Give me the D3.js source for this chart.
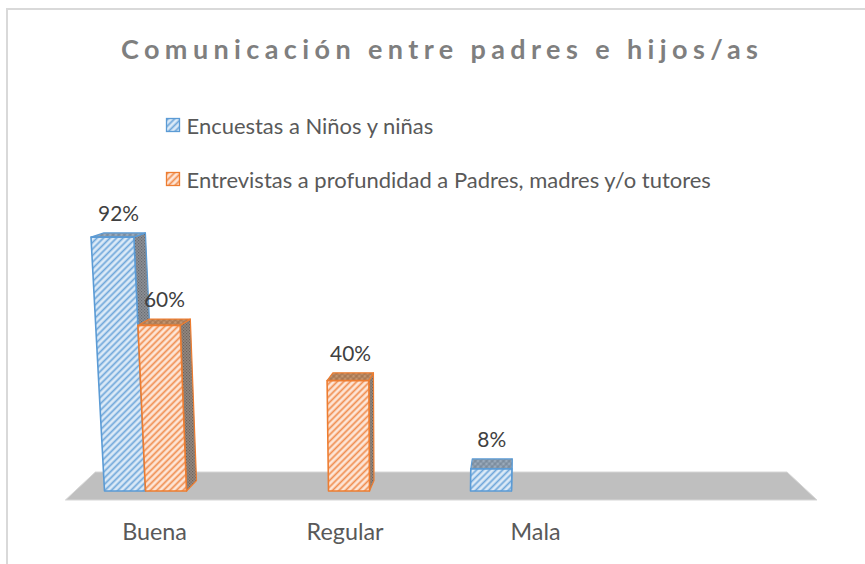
<!DOCTYPE html>
<html>
<head>
<meta charset="utf-8">
<script src="https://cdn.jsdelivr.net/npm/d3@7"></script>
<style>
  html, body { margin: 0; padding: 0; background: #fff; }
  svg { display: block; }
</style>
</head>
<body>
<svg id="chart" width="865" height="564"></svg>
<script>
// ---------- data ----------
const title = "Comunicación entre padres e hijos/as";
const categories = ["Buena", "Regular", "Mala"];
const seriesNames = ["Encuestas a Niños y niñas", "Entrevistas a profundidad a Padres, madres y/o tutores"];
const encuestas = [92, null, 8];     // %
const entrevistas = [60, 40, null];  // %
const seriesValues = [encuestas, entrevistas];

// ---------- styles ----------
const seriesStroke = ["#5b9bd5", "#ed7d31"];
const frontBg = ["#dceaf7", "#fde6d8"];
const frontFg = ["#6ea6da", "#f08c4e"];
const sideBg = ["#8d9096", "#938880"];
const sideFg = ["#666a70", "#6e625a"];
const topBg = ["#9aaabb", "#c4956f"];
const topFg = ["#6f7f90", "#9a6a45"];
const fontFam = "Lato, 'Open Sans', sans-serif";

const svg = d3.select("#chart");
const W = 865, H = 564;

// ---------- patterns ----------
const defs = svg.append("defs");
function stripePattern(id, bg, fg, sp, sw) {
  const p = defs.append("pattern").attr("id", id).attr("patternUnits", "userSpaceOnUse")
    .attr("width", sp).attr("height", sp).attr("patternTransform", "rotate(45)");
  p.append("rect").attr("width", sp).attr("height", sp).attr("fill", bg);
  p.append("line").attr("x1", sp / 2).attr("x2", sp / 2).attr("y1", 0).attr("y2", sp)
    .attr("stroke", fg).attr("stroke-width", sw);
}
function dotPattern(id, bg, fg) {
  const p = defs.append("pattern").attr("id", id).attr("patternUnits", "userSpaceOnUse")
    .attr("width", 3).attr("height", 3);
  p.append("rect").attr("width", 3).attr("height", 3).attr("fill", bg);
  p.append("rect").attr("x", 0).attr("y", 0).attr("width", 1.2).attr("height", 1.2).attr("fill", fg);
  p.append("rect").attr("x", 1.5).attr("y", 1.5).attr("width", 1.2).attr("height", 1.2).attr("fill", fg);
}
function crossPattern(id, bg, fg) {
  const p = defs.append("pattern").attr("id", id).attr("patternUnits", "userSpaceOnUse")
    .attr("width", 4).attr("height", 4).attr("patternTransform", "rotate(45)");
  p.append("rect").attr("width", 4).attr("height", 4).attr("fill", bg);
  p.append("line").attr("x1", 2).attr("x2", 2).attr("y1", 0).attr("y2", 4).attr("stroke", fg).attr("stroke-width", 1);
  p.append("line").attr("y1", 2).attr("y2", 2).attr("x1", 0).attr("x2", 4).attr("stroke", fg).attr("stroke-width", 0.8);
}
[0, 1].forEach(i => {
  stripePattern("front" + i, frontBg[i], frontFg[i], 4.6, 1.7);
  dotPattern("side" + i, sideBg[i], sideFg[i]);
  crossPattern("top" + i, topBg[i], topFg[i]);
});

// ---------- chart border ----------
svg.append("rect").attr("x", 7).attr("y", 9).attr("width", W + 20).attr("height", H + 20)
  .attr("fill", "#fff").attr("stroke", "#d9d9d9").attr("stroke-width", 2);

// ---------- scales ----------
const BASE = 491;
const y = d3.scaleLinear().domain([0, 100]).range([BASE, 215]);
const x = d3.scaleBand().domain(categories).range([75, 624]).padding(0);
const x1 = d3.scaleBand().domain([0, 1]).range([0, 82]);
const groupLeft = c => x(c) + x.bandwidth() / 2 - 62;

// simple perspective
const VX = 400, K = 1.8e-4;
function proj(px, py) { const h = BASE - py; return [px - (VX - px) * h * K, py]; }
function back(p, h) { return [p[0] + (520 - p[0]) * 0.03, p[1] - (10.5 - 0.025 * h)]; }

// ---------- floor ----------
const fl = x.range()[0], fr = x.range()[0] + x.step() * (categories.length + 1);
const floorPts = [[fl - 9.6, BASE + 9], [fl + 20.4, BASE - 19], [fr - 20, BASE - 19], [fr + 10, BASE + 9]];
svg.append("polygon").attr("points", floorPts.map(p => p.join(",")).join(" "))
  .attr("fill", "#bfbfbf").attr("stroke", "#d6d6d6").attr("stroke-width", 1);

// ---------- bars ----------
const bars = [];
categories.forEach((c, ci) => {
  seriesValues.forEach((vals, si) => {
    const v = vals[ci];
    if (v == null) return;
    bars.push({ c, si, v });
  });
});

const poly = pts => pts.map(p => p[0].toFixed(2) + "," + p[1].toFixed(2)).join(" ");
const gBars = svg.append("g");
bars.forEach(b => {
  const x0 = groupLeft(b.c) + x1(b.si), x2 = x0 + x1.bandwidth();
  const yt = y(b.v), h = BASE - yt;
  const FBL = proj(x0, BASE), FBR = proj(x2, BASE), FTL = proj(x0, yt), FTR = proj(x2, yt);
  const BTL = back(FTL, h), BTR = back(FTR, h), BBR = back(FBR, 0);
  const g = gBars.append("g");
  g.append("polygon").attr("points", poly([FBR, FTR, BTR, BBR]))
    .attr("fill", `url(#side${b.si})`).attr("stroke", seriesStroke[b.si]).attr("stroke-width", 1.2).attr("stroke-linejoin", "round");
  g.append("polygon").attr("points", poly([FTL, FTR, BTR, BTL]))
    .attr("fill", `url(#top${b.si})`).attr("stroke", seriesStroke[b.si]).attr("stroke-width", 1.2).attr("stroke-linejoin", "round");
  g.append("polygon").attr("points", poly([FBL, FBR, FTR, FTL]))
    .attr("fill", `url(#front${b.si})`).attr("stroke", seriesStroke[b.si]).attr("stroke-width", 1.6).attr("stroke-linejoin", "round");
  b.lx = (FTL[0] + FTR[0] + BTL[0] + BTR[0]) / 4;
  b.ly = Math.min(BTL[1], BTR[1]) - 12;
});

// ---------- text helpers ----------
function fitFont(sel, target) {
  const w = sel.node().getComputedTextLength();
  const fs = parseFloat(sel.attr("font-size"));
  const nf = fs * target / w;
  sel.attr("font-size", nf);
  return nf;
}

// data labels
const lblProbe = svg.append("text").attr("font-family", fontFam).attr("font-size", 22).text("92%");
const lblSize = fitFont(lblProbe, 41);
lblProbe.remove();
svg.append("g").selectAll("text").data(bars).join("text")
  .attr("x", d => d.lx).attr("y", d => d.ly)
  .attr("text-anchor", "middle").attr("font-family", fontFam).attr("font-size", lblSize)
  .attr("fill", "#404040").text(d => d.v + "%");

// category labels
const catProbe = svg.append("text").attr("font-family", fontFam).attr("font-size", 22).text("Regular");
const catSize = fitFont(catProbe, 77);
catProbe.remove();
svg.append("g").selectAll("text").data(categories).join("text")
  .attr("x", c => { const cc = x(c) + x.bandwidth() / 2; return 458 + (cc - 458) * 1.041; })
  .attr("y", 540).attr("text-anchor", "middle")
  .attr("font-family", fontFam).attr("font-size", catSize).attr("fill", "#595959")
  .text(c => c);

// ---------- legend ----------
const legProbe = svg.append("text").attr("font-family", fontFam).attr("font-size", 22).text(seriesNames[0]);
const legSize = fitFont(legProbe, 247);
legProbe.remove();
const legY = d3.scalePoint().domain([0, 1]).range([134, 188]);
const leg = svg.append("g").selectAll("g").data(seriesNames).join("g")
  .attr("transform", (d, i) => `translate(0,${legY(i)})`);
leg.append("rect").attr("x", 166.5).attr("y", -15.5).attr("width", 13).attr("height", 13)
  .attr("fill", (d, i) => `url(#front${i})`).attr("stroke", (d, i) => seriesStroke[i]).attr("stroke-width", 1.3);
leg.append("text").attr("x", 186.5).attr("y", 0)
  .attr("font-family", fontFam).attr("font-size", legSize).attr("fill", "#595959").text(d => d);

// ---------- title ----------
const t = svg.append("text").attr("x", 121).attr("y", 58.5)
  .attr("font-family", fontFam).attr("font-weight", "bold").attr("font-size", 27)
  .attr("fill", "#7f7f7f").text(title);
const targetW = 758 - 121;
let ls = 0;
for (let it = 0; it < 4; it++) {
  t.style("letter-spacing", ls + "px");
  const bb = t.node().getBBox();
  const w = bb.width - ls; // exclude trailing spacing
  ls = ls + (targetW - w) / (title.length - 1);
}
t.style("letter-spacing", ls + "px");
</script>
</body>
</html>
